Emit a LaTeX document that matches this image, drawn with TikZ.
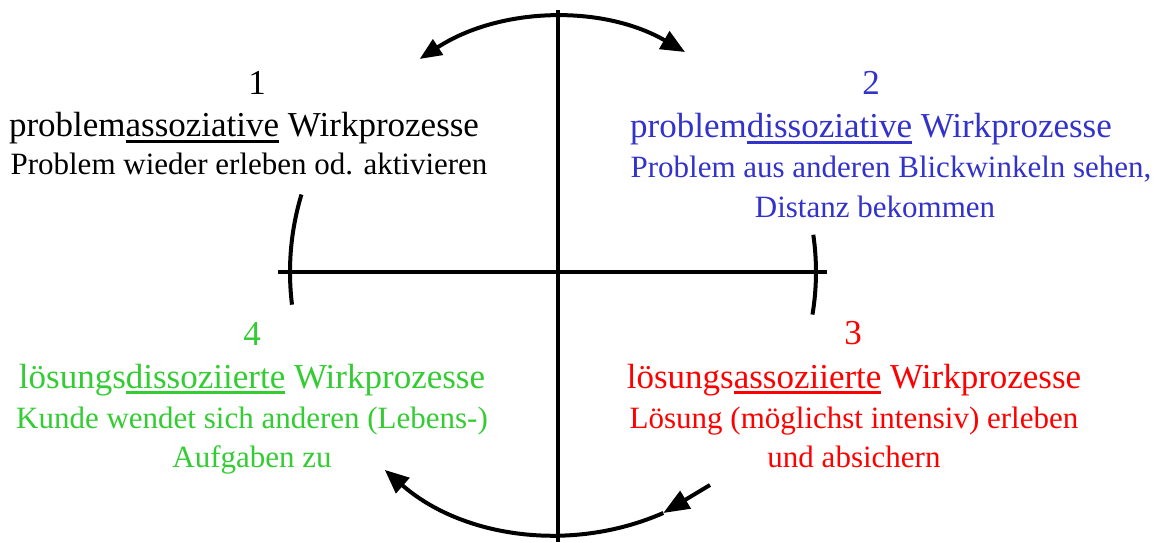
\documentclass[tikz,border=0pt]{standalone}
\usepackage{fontspec}
\setmainfont{Liberation Serif}
\usepackage{tikz}
\usetikzlibrary{arrows.meta}
\definecolor{phaseblue}{RGB}{51,51,204}
\definecolor{phasegreen}{RGB}{51,204,51}
\definecolor{phasered}{RGB}{255,0,0}
\newcommand{\uword}[1]{\setbox0\hbox{#1}\rlap{\rule[-6pt]{\wd0}{3pt}}\box0\relax}

\begin{document}
\begin{tikzpicture}[x=1pt,y=1pt,
	numtext/.style={anchor=base,font=\fontsize{35}{40}\selectfont},
	headtext/.style={anchor=base,font=\fontsize{35}{40}\selectfont},
	desctext/.style={anchor=base,font=\fontsize{31}{36}\selectfont},
	axisline/.style={line width=3.5pt},
	cyclearc/.style={line width=4pt},
	cycletip/.style={-{Triangle[length=24pt,width=20pt]}}]
	\useasboundingbox (0,0) rectangle (1157,542);
	\coordinate (C) at (558,270);
	
	%axes
	\coordinate (axtop) at (558,532);
	\coordinate (axbot) at (558,0);
	\coordinate (axleft) at (278,270);
	\coordinate (axright) at (827,270);
	\draw[axisline] (axtop)--(axbot);
	\draw[axisline] (axleft)--(axright);
	
	%arcs round the cross
	\draw[cyclearc,{Triangle[length=22pt,width=18pt]}-{Triangle[length=24pt,width=20pt]}] (C) ++(123:254) arc[start angle=123,end angle=60,radius=254];
	\draw[cyclearc] (C) ++(8.3:258) arc[start angle=8.3,end angle=-9.5,radius=258];
	\draw[cyclearc,cycletip] (C) ++(293.6:263) coordinate (botend) arc[start angle=293.6,end angle=228.8,radius=263];
	\draw[cyclearc] (C) ++(187:268) arc[start angle=187,end angle=163.2,radius=268];
	\coordinate (stubend) at (710,57);
	\draw[cyclearc,-{Triangle[length=26pt,width=20pt]}] (stubend)--(botend);
	
	%quadrant 1
	\node[numtext] (num1) at (257,447) {1};
	\node[headtext] (head1) at (244,405) {problem\uword{assoziative} Wirkprozesse};
	\node[desctext] (desc1) at (249,367) {Problem wieder erleben od. aktivieren};
	
	%quadrant 2
	\begin{scope}[phaseblue]
	\node[numtext] (num2) at (871,447) {2};
	\node[headtext] (head2) at (871,404) {problem\uword{dissoziative} Wirkprozesse};
	\node[desctext] (desc2a) at (891,364) {Problem aus anderen Blickwinkeln sehen,};
	\node[desctext] (desc2b) at (875,325) {Distanz bekommen};
	\end{scope}
	
	%quadrant 3
	\begin{scope}[phasered]
	\node[numtext] (num3) at (853,198) {3};
	\node[headtext] (head3) at (854,154) {lösungs\uword{assoziierte} Wirkprozesse};
	\node[desctext] (desc3a) at (854,114) {Lösung (möglichst intensiv) erleben};
	\node[desctext] (desc3b) at (854,75) {und absichern};
	\end{scope}
	
	%quadrant 4
	\begin{scope}[phasegreen]
	\node[numtext] (num4) at (252,197) {4};
	\node[headtext] (head4) at (252,154) {lösungs\uword{dissoziierte} Wirkprozesse};
	\node[desctext] (desc4a) at (252,114) {Kunde wendet sich anderen (Lebens-)};
	\node[desctext] (desc4b) at (252,75) {Aufgaben zu};
	\end{scope}
\end{tikzpicture}
\end{document}
